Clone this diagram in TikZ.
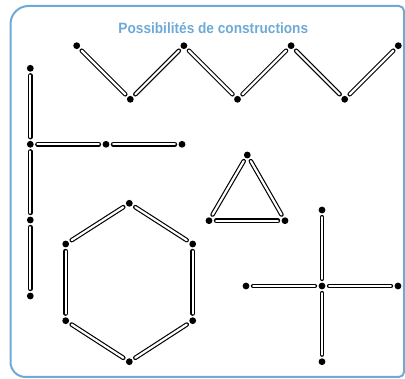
\documentclass[tikz,border=0pt]{standalone}
\usepackage{fontspec}
\usepackage{graphicx}
\setmainfont{Liberation Sans}
\definecolor{frameblue}{RGB}{110,170,214}
\begin{document}
\begin{tikzpicture}[x=1pt,y=-1pt,
  dot/.style={circle,fill=black,draw=none,inner sep=0pt,minimum size=6.8pt},
  stick/.style={draw=black,line width=1.15pt,double=white,double distance=2.2pt,line cap=round,shorten <=3.5pt,shorten >=3.5pt},
  frame/.style={draw=frameblue,line width=2pt},
  title/.style={text=frameblue,font=\fontsize{15}{15}\selectfont\bfseries,inner sep=0pt,anchor=base}]
\useasboundingbox (0,0) rectangle (405,379);
\begin{scope}
\clip (0,0) rectangle (405,379);
\draw[frame] (10.5,200) [rounded corners=18pt] -- (10.5,6) [rounded corners=5pt] -- (404,6) -- (404,377) [rounded corners=15pt] -- (10.5,377) -- cycle;
\end{scope}
\node[title] (title) at (213.3,33.7) {\scalebox{0.91}[1]{Possibilités de constructions}};
% zigzag
\foreach \i/\x/\y in {1/76.7/45.7,2/130.3/99.3,3/183.9/45.7,4/237.5/99.3,5/291.1/45.7,6/344.7/99.3,7/398.3/45.7}
  \node[dot] (z\i) at (\x,\y) {};
\foreach \a/\b in {1/2,2/3,3/4,4/5,5/6,6/7}
  \draw[stick] (z\a) -- (z\b);
% L shape
\node[dot] (l1) at (30.3,68.3) {};
\node[dot] (l2) at (30.3,144.3) {};
\node[dot] (l3) at (106,144.3) {};
\node[dot] (l4) at (182,144.3) {};
\node[dot] (l5) at (30.3,220) {};
\node[dot] (l6) at (30.3,296) {};
\draw[stick] (l1) -- (l2);
\draw[stick] (l2) -- (l3);
\draw[stick] (l3) -- (l4);
\draw[stick] (l2) -- (l5);
\draw[stick] (l5) -- (l6);
% hexagon
\node[dot] (h1) at (129.3,203.3) {};
\node[dot] (h2) at (192.7,244) {};
\node[dot] (h3) at (192.7,320.7) {};
\node[dot] (h4) at (129.3,361.7) {};
\node[dot] (h5) at (65.7,320.7) {};
\node[dot] (h6) at (65.7,244) {};
\foreach \a/\b in {1/2,2/3,3/4,4/5,5/6,6/1}
  \draw[stick] (h\a) -- (h\b);
% triangle
\node[dot] (t1) at (247.3,155) {};
\node[dot] (t2) at (285,220.7) {};
\node[dot] (t3) at (209,220.7) {};
\draw[stick] (t1) -- (t2);
\draw[stick] (t2) -- (t3);
\draw[stick] (t3) -- (t1);
% cross
\node[dot] (c0) at (322,286) {};
\node[dot] (c1) at (322,210) {};
\node[dot] (c2) at (398,286) {};
\node[dot] (c3) at (322,361.7) {};
\node[dot] (c4) at (246,286) {};
\foreach \b in {1,2,3,4}
  \draw[stick] (c0) -- (c\b);
\end{tikzpicture}
\end{document}
